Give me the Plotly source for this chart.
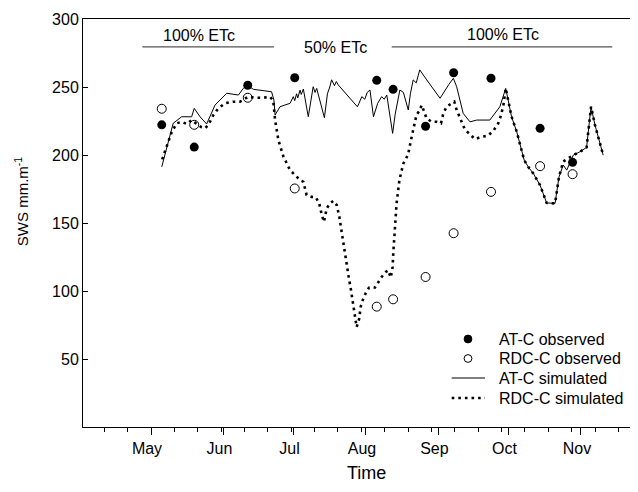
import pandas as pd
import plotly.graph_objects as go

# ---- data (days counted from season start, 1 May) ----
season_start = "2009-05-01"

at_sim_day = [4.6, 9.5, 13.1, 17.4, 18.5, 21, 23.8, 26, 27.4, 29.5, 32.4, 37.4, 39.5, 41, 43.8,
              51.6, 52.6, 53.1, 55.2, 59.5, 60.9, 61.5, 62.3, 62.8, 63.8, 64.3, 65.2, 67.3,
              69.4, 70.2, 70.9, 74.2, 75.5, 76.5, 77.3, 78.5, 79.3, 80.1, 88.3, 89, 90.2,
              91.5, 92.5, 93.7, 95.2, 97, 98.7, 99.8, 100.9, 103.4, 104.5, 106.5, 108, 110.1,
              111, 112.2, 113.5, 115, 116, 118, 123.7, 125.8, 127.5, 129.4, 130.8, 133.6,
              136.5, 139.4, 145, 149.3, 151.8, 154.3, 156.5, 159.7, 161.4, 163.6, 166.5,
              169.3, 172.9, 174.6, 176.4, 177.9, 180.7, 183.6, 186.4, 188.3, 190, 193.5]
at_sim_val = [191.3, 223.3, 228.1, 228.1, 234.3, 228.1, 222.8, 231.8, 236.7, 240.4, 245.4, 244.1,
              249, 251.5, 248.3, 246.5, 240.4, 229.4, 235.5, 238, 242.9, 240, 245, 242, 247.7,
              244.5, 248.5, 228.1, 250.2, 246, 249, 227.4, 245, 250, 255.3, 251, 254, 251.6,
              235.5, 238, 242.9, 241, 246, 247.8, 228.1, 238, 242.9, 241, 244.1, 215.9, 230,
              247.8, 246, 233.1, 245, 255.2, 253, 262.6, 260, 255.2, 241.7, 247.8, 252, 256.4,
              250.2, 230.6, 224.4, 225.7, 225.7, 235.5, 249, 228.1, 217.1, 196.2, 191.3, 186.4,
              177.8, 164.8, 164.4, 183.9, 192.6, 188.9, 199.9, 202.4, 205.6, 235.5, 222, 199.9]

rdc_sim_day = [4.8, 6.7, 8.9, 11, 13.1, 15.3, 17.4, 19.6, 21.5, 23.1, 24.5, 26.7, 28.8, 31.7, 35.2,
               38.1, 41.6, 44.5, 48.1, 50.9, 52.3, 53.1, 54.5, 56.7, 59.5, 63.8, 65.2, 66.6, 68.8,
               70.5, 72, 73.1, 74, 75.2, 76.6, 78, 79.5, 80.6, 81.6, 82.7, 83.7, 84.7, 85.6, 86.6,
               87.3, 88, 89.1, 89.7, 90.6, 91.8, 93.3, 94.8, 95.8, 97.2, 98.7, 100.5, 101.5, 102.6,
               103.4, 103.7, 104.1, 104.7, 105.1, 105.6, 106.3, 107.3, 108, 109.2, 110.1, 111.1,
               112, 112.9, 113.6, 115.1, 115.8, 116.9, 117.9, 120.1, 122.2, 124.1, 125.1, 126.5,
               128.7, 129.8, 130.8, 132.2, 134.3, 136.5, 138.6, 141.5, 144.1, 146.5, 148.6, 149.8,
               150.8, 151.8, 154.3, 156.5, 159.7, 161.4, 163.6, 166.5, 169.3, 172.9, 174.6, 176.4,
               180.7, 183.6, 186.4, 188.3, 190, 193.5]
rdc_sim_val = [196.8, 206, 217.1, 223.3, 224.4, 222.8, 225.7, 222.8, 220.5, 219.6, 222, 229.4, 234.3,
               238, 239.2, 239.2, 242.9, 242.1, 242.1, 242.9, 239.9, 225.7, 211, 198.7, 188.9, 181.5,
               180.3, 170.5, 169.2, 169, 164.4, 155.7, 150.8, 160.7, 164.4, 166.3, 163.1, 154.5,
               143.4, 128.7, 118.9, 109.1, 100.5, 89.5, 79.7, 73.5, 79.7, 88.2, 93.2, 98.1, 102.5,
               102.9, 102.5, 106.6, 110.3, 114, 115.2, 109.9, 117.7, 128.7, 139.8, 152.1, 164.4,
               171.7, 181.5, 188.9, 193.8, 197.5, 201, 209.7, 217.1, 224.4, 229.4, 233.1, 236.7,
               231.8, 227, 224.4, 224.4, 223.3, 230.6, 235.5, 238, 239.2, 233.1, 227, 218.8, 215.2,
               211.7, 213.4, 214.1, 217.8, 223.3, 229.4, 236.7, 249, 228.1, 217.1, 196.2, 191.3,
               186.4, 177.8, 164.8, 164.4, 183.9, 195.2, 199.9, 202.4, 205.6, 235.5, 222, 199.9]

obs_day = [4.6, 18.5, 41.4, 61.5, 96.6, 103.6, 117.5, 129.5, 145.5, 166.5, 180.4]
at_obs_val = [222.2, 205.8, 251.3, 256.8, 254.9, 248.3, 221.1, 260.5, 256.4, 219.6, 194.6]
rdc_obs_val = [234.0, 222.2, 242.1, 175.4, 88.5, 93.9, 110.3, 142.5, 172.9, 191.8, 185.9]

month_ticks = ["2009-05-01", "2009-06-01", "2009-07-01", "2009-08-01", "2009-09-01",
               "2009-10-01", "2009-11-01"]
month_labels = ["May", "Jun", "Jul", "Aug", "Sep", "Oct", "Nov"]
y_ticks = [50, 100, 150, 200, 250, 300]

# irrigation periods (start day, end day) and labels (text, day, value)
period_lines = [(-3.7, 52.6), (103.0, 197.4)]
period_labels = [("100% ETc", 20.5, 288), ("50% ETc", 79.1, 279.2), ("100% ETc", 150.6, 288.3)]
period_line_y = 279.5

x_range_days = (-29.1, 208.4)

legend_names = ["AT-C observed", "RDC-C observed", "AT-C simulated", "RDC-C simulated"]

# ---- layout geometry (pixels) ----
OFF = 8                      # default page margin around the figure
W, H = 638 - OFF, 492 - 2 * OFF
ML, MR, MT = 83 - OFF, 0, 19 - OFF
PW, PH = W - ML - MR, 408
MB = H - MT - PH


def px(x):
    return (x - OFF - ML) / PW


def py(y):
    return 1 - (y - OFF - MT) / PH


base = pd.Timestamp(season_start)


def to_date(days):
    return [base + pd.Timedelta(days=float(d)) for d in days]


FONT = "Arial, Liberation Sans, sans-serif"
DOT_DASH = "2.6px,4px"

fig = go.Figure()
fig.add_trace(go.Scatter(x=to_date(obs_day), y=at_obs_val, mode="markers", name=legend_names[0],
                         marker=dict(symbol="circle", size=9, color="black")))
fig.add_trace(go.Scatter(x=to_date(obs_day), y=rdc_obs_val, mode="markers", name=legend_names[1],
                         marker=dict(symbol="circle-open", size=9, color="black",
                                     line=dict(width=1, color="black"))))
fig.add_trace(go.Scatter(x=to_date(at_sim_day), y=at_sim_val, mode="lines", name=legend_names[2],
                         line=dict(color="black", width=1)))
fig.add_trace(go.Scatter(x=to_date(rdc_sim_day), y=rdc_sim_val, mode="lines", name=legend_names[3],
                         line=dict(color="black", width=2.6, dash=DOT_DASH)))

for s, e in period_lines:
    d = to_date([s, e])
    fig.add_shape(type="line", xref="x", yref="y", x0=d[0], x1=d[1], y0=period_line_y,
                  y1=period_line_y, line=dict(color="#555555", width=1.2))
for txt, d, v in period_labels:
    fig.add_annotation(x=to_date([d])[0], y=v, xref="x", yref="y", text=txt, showarrow=False,
                       font=dict(size=16, color="black", family=FONT))

# axis titles
fig.add_annotation(x=px(366.7), y=py(473), xref="paper", yref="paper", text="Time",
                   showarrow=False, xanchor="center", yanchor="middle",
                   font=dict(size=18, color="black", family=FONT))
fig.add_annotation(x=px(21.7), y=py(201.5), xref="paper", yref="paper",
                   text="SWS mm.m<sup>-1</sup>", textangle=-90, showarrow=False,
                   xanchor="center", yanchor="middle",
                   font=dict(size=15, color="black", family=FONT))

# hand-placed legend (tight row spacing as in the reference)
row_y = [339, 358.5, 378, 398]
sym_x, line_x0, line_x1, text_x = 468, 451.7, 485, 496.7
r = 3.9
fig.add_shape(type="circle", xref="paper", yref="paper", xsizemode="pixel", ysizemode="pixel",
              xanchor=px(sym_x), yanchor=py(row_y[0]), x0=-r, x1=r, y0=-r, y1=r,
              fillcolor="black", line=dict(color="black", width=1))
fig.add_shape(type="circle", xref="paper", yref="paper", xsizemode="pixel", ysizemode="pixel",
              xanchor=px(sym_x), yanchor=py(row_y[1]), x0=-r, x1=r, y0=-r, y1=r,
              fillcolor="white", line=dict(color="black", width=1))
fig.add_shape(type="line", xref="paper", yref="paper", x0=px(line_x0), x1=px(line_x1),
              y0=py(row_y[2]), y1=py(row_y[2]), line=dict(color="black", width=1))
fig.add_shape(type="line", xref="paper", yref="paper", x0=px(line_x0), x1=px(line_x1),
              y0=py(row_y[3]), y1=py(row_y[3]), line=dict(color="black", width=2.6, dash=DOT_DASH))
for name, yy in zip(legend_names, row_y):
    fig.add_annotation(x=px(text_x), y=py(yy), xref="paper", yref="paper", text=name,
                       showarrow=False, xanchor="left", yanchor="middle",
                       font=dict(size=16, color="black", family=FONT))

fig.update_layout(
    width=W, height=H,
    margin=dict(l=ML, r=MR, t=MT, b=MB, autoexpand=False),
    paper_bgcolor="white", plot_bgcolor="white",
    font=dict(family=FONT, size=16, color="black"),
    showlegend=False,
    xaxis=dict(type="date", range=to_date(x_range_days), showgrid=False, zeroline=False,
               showline=True, linecolor="black", linewidth=1, mirror=True,
               tickmode="array", tickvals=month_ticks, ticktext=month_labels,
               ticks="outside", ticklen=7, tickcolor="black", tickwidth=1,
               ticklabelshift=-4, ticklabelstandoff=0,
               minor=dict(ticks="outside", ticklen=4, tickcolor="black", tickwidth=1,
                          dtick=10 * 86400000, tick0="2009-04-11", showgrid=False),
               tickfont=dict(size=16)),
    yaxis=dict(range=[0, 300], showgrid=False, zeroline=False, showline=True, linecolor="black",
               linewidth=1, tickmode="array", tickvals=y_ticks, ticks="inside", ticklen=5,
               tickcolor="black", ticklabelstandoff=0, tickfont=dict(size=16)),
)

fig.write_html("out.html")
